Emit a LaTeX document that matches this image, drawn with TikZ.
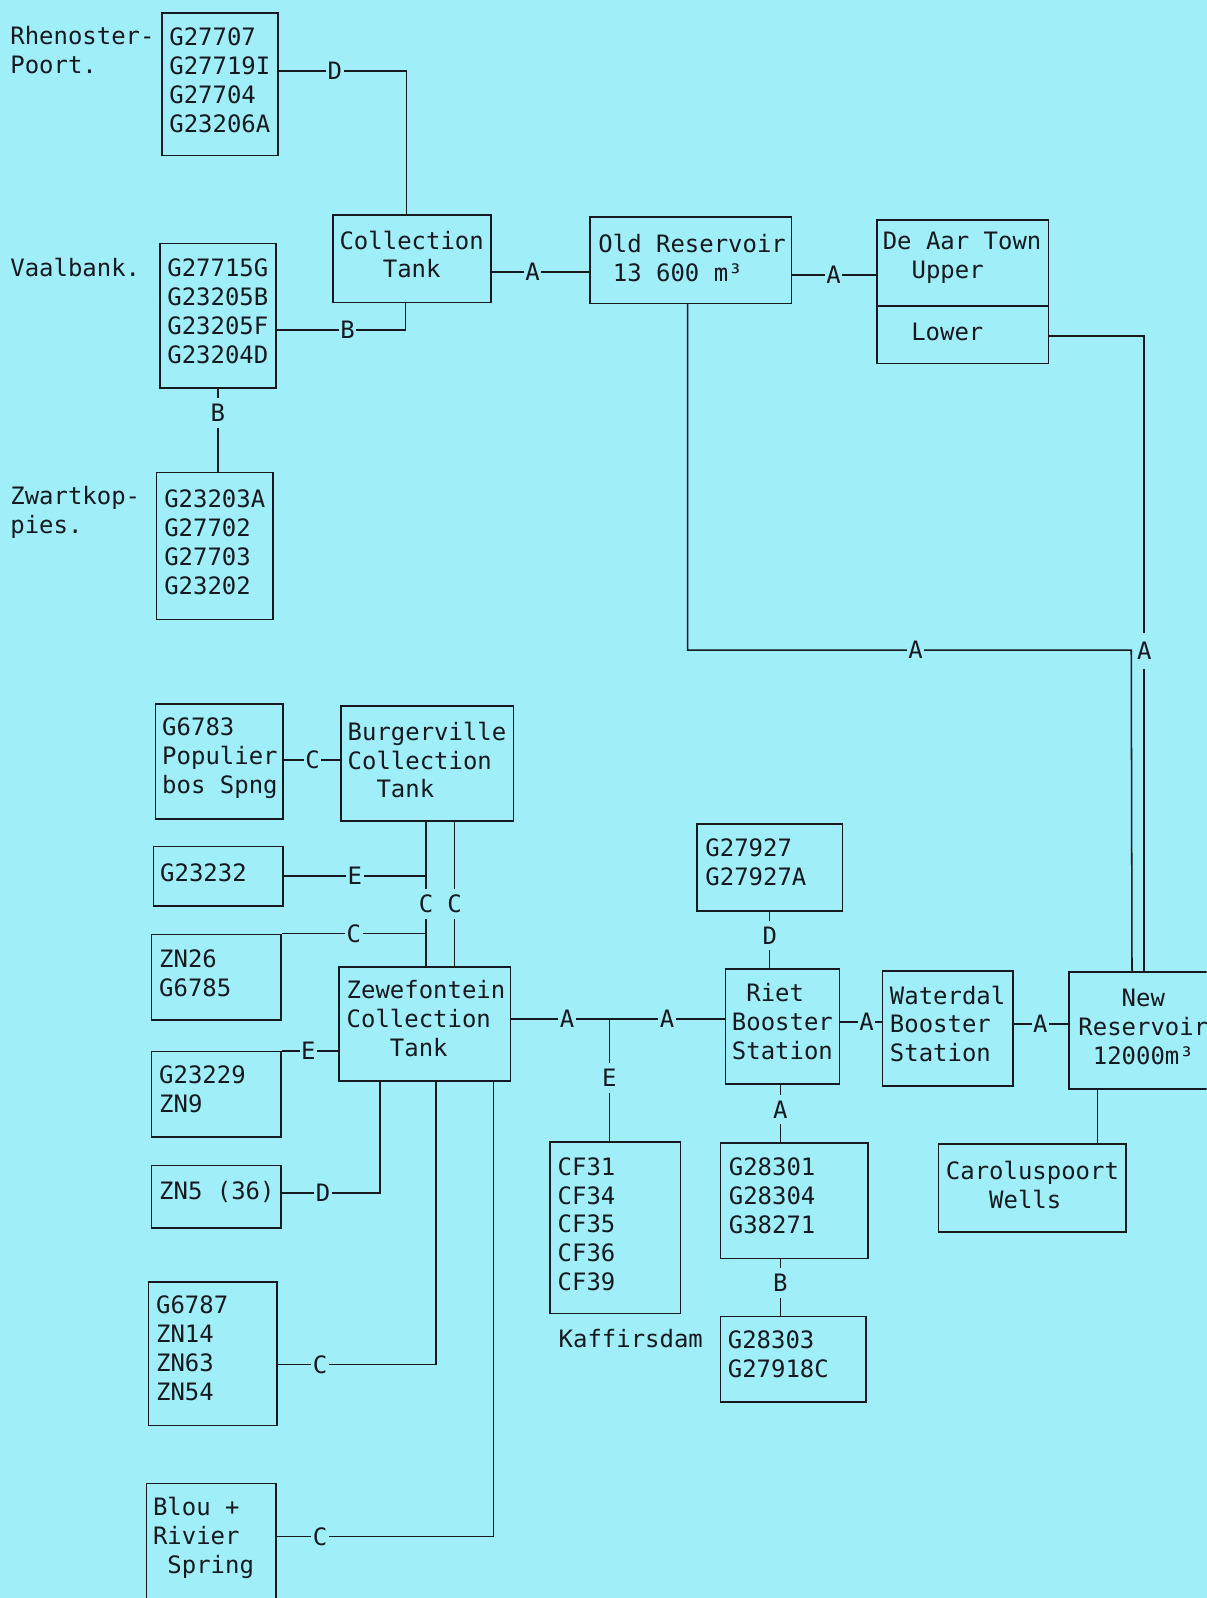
\documentclass[tikz,border=0pt]{standalone}
\usepackage{fontspec}
\newfontfamily\plotfont{DejaVu Sans Mono}
\definecolor{bgc}{RGB}{160,238,248}
\definecolor{ink}{RGB}{22,26,32}
\begin{document}
\begin{tikzpicture}[x=1pt,y=-1pt,
  ln/.style={draw=ink, line width=1.5pt},
  bx/.style={draw=ink, line width=1.5pt, rectangle, inner sep=0pt, anchor=north west},
  txt/.style={font=\plotfont\fontsize{23.5}{28.4}\selectfont, text=ink, inner sep=0pt, align=left, anchor=west},
  lab/.style={font=\plotfont\fontsize{23.5}{28.4}\selectfont, text=ink, fill=bgc, inner xsep=1.5pt, inner ysep=0pt},
  vlab/.style={lab, inner xsep=0pt, inner ysep=6pt},
]
\fill[bgc] (0,0) rectangle (1184,1568);
\useasboundingbox (0,0) rectangle (1184,1568);
\clip (0,0) rectangle (1184,1568);

% ---------- boxes ----------
\node[bx, minimum width=114pt, minimum height=140pt] (rhen) at (158,12) {};
\node[bx, minimum width=155pt, minimum height=86pt] (coll) at (326,210) {};
\node[bx, minimum width=114pt, minimum height=142pt] (vaal) at (156,238) {};
\node[bx, minimum width=114pt, minimum height=144pt] (zwart) at (153,463) {};
\node[bx, minimum width=198pt, minimum height=85pt] (oldres) at (578,212) {};
\node[bx, minimum width=168pt, minimum height=141pt] (deaar) at (860,215) {};
\node[bx, minimum width=125pt, minimum height=113pt] (g6783) at (152,690) {};
\node[bx, minimum width=169pt, minimum height=113pt] (burg) at (334,692) {};
\node[bx, minimum width=127pt, minimum height=58pt] (g23232) at (150,830) {};
\node[bx, minimum width=127pt, minimum height=84pt] (zn26) at (148,916) {};
\node[bx, minimum width=168pt, minimum height=112pt] (zewe) at (332,948) {};
\node[bx, minimum width=127pt, minimum height=84pt] (g23229) at (148,1031) {};
\node[bx, minimum width=127pt, minimum height=61pt] (zn5) at (148,1143) {};
\node[bx, minimum width=126pt, minimum height=141pt] (g6787) at (145,1257) {};
\node[bx, minimum width=127pt, minimum height=150pt] (blou) at (143,1455) {};
\node[bx, minimum width=143pt, minimum height=85pt] (g27927) at (683,808) {};
\node[bx, minimum width=112pt, minimum height=113pt] (riet) at (711,950) {};
\node[bx, minimum width=128pt, minimum height=113pt] (waterdal) at (865,952) {};
\node[bx, minimum width=146pt, minimum height=115pt] (newres) at (1048,953) {};
\node[bx, minimum width=184pt, minimum height=86pt] (carolus) at (920,1122) {};
\node[bx, minimum width=145pt, minimum height=113pt] (g28301) at (706,1121) {};
\node[bx, minimum width=143pt, minimum height=84pt] (g28303) at (706,1291) {};
\node[bx, minimum width=128pt, minimum height=168pt] (kaff) at (539,1120) {};

\coordinate (dv) at (0,300);
\draw[ln] (deaar.west |- dv) -- (deaar.east |- dv);

% ---------- texts ----------
\node[txt] (rhenT) at ([xshift=8pt,yshift=4pt]rhen.west) {G27707\\G27719I\\G27704\\G23206A};
\node[txt] (collT) at ([xshift=7pt,yshift=4pt]coll.west) {Collection\\\phantom{xxx}Tank};
\node[txt] (vaalT) at ([xshift=8pt,yshift=4pt]vaal.west) {G27715G\\G23205B\\G23205F\\G23204D};
\node[txt] (zwartT) at ([xshift=8pt,yshift=4pt]zwart.west) {G23203A\\G27702\\G27703\\G23202};
\node[txt] (oldresT) at ([xshift=9pt,yshift=2.5pt]oldres.west) {Old Reservoir\\\phantom{x}13 600 m³};
\node[txt] (deaarT) at (866,253) {De Aar Town\\\phantom{xx}Upper};
\node[txt] (deaarL) at (894,326) {Lower};
\node[txt] (g6783T) at ([xshift=7pt,yshift=3pt]g6783.west) {G6783\\Populier\\bos Spng};
\node[txt] (burgT) at ([xshift=7pt,yshift=3.5pt]burg.west) {Burgerville\\Collection\\\phantom{xx}Tank};
\node[txt] (g23232T) at ([xshift=7pt,yshift=3pt]g23232.west) {G23232};
\node[txt] (zn26T) at ([xshift=8pt,yshift=4pt]zn26.west) {ZN26\\G6785};
\node[txt] (zeweT) at ([xshift=8pt,yshift=5pt]zewe.west) {Zewefontein\\Collection\\\phantom{xxx}Tank};
\node[txt] (g23229T) at ([xshift=8pt,yshift=5pt]g23229.west) {G23229\\ZN9};
\node[txt] (zn5T) at ([xshift=8pt,yshift=5pt]zn5.west) {ZN5 (36)};
\node[txt] (g6787T) at ([xshift=8pt,yshift=5pt]g6787.west) {G6787\\ZN14\\ZN63\\ZN54};
\node[txt, anchor=north west] (blouT) at (150,1469) {Blou +\\Rivier\\\phantom{x}Spring};
\node[txt] (g27927T) at ([xshift=9pt,yshift=5pt]g27927.west) {G27927\\G27927A};
\node[txt] (rietT) at ([xshift=7pt,yshift=4.5pt]riet.west) {\phantom{x}Riet\\Booster\\Station};
\node[txt] (waterdalT) at ([xshift=8pt,yshift=4.5pt]waterdal.west) {Waterdal\\Booster\\Station};
\node[txt] (newresT) at ([xshift=10pt,yshift=4pt]newres.west) {\phantom{xxx}New\\Reservoir\\\phantom{x}12000m³};
\node[txt] (carolusT) at ([xshift=8pt,yshift=3pt]carolus.west) {Caroluspoort\\\phantom{xxx}Wells};
\node[txt] (g28301T) at ([xshift=9pt,yshift=4.5pt]g28301.west) {G28301\\G28304\\G38271};
\node[txt] (g28303T) at ([xshift=8pt,yshift=5pt]g28303.west) {G28303\\G27918C};
\node[txt] (kaffT) at ([xshift=8pt,yshift=3.5pt]kaff.west) {CF31\\CF34\\CF35\\CF36\\CF39};

\node[txt] (rhenL) at (10,49) {Rhenoster-\\Poort.};
\node[txt] (vaalL) at (10,262) {Vaalbank.};
\node[txt] (zwartL) at (10,503) {Zwartkop-\\pies.};
\node[txt] (kaffL) at (548,1313) {Kaffirsdam};

% ---------- helper coordinates ----------
\coordinate (v1) at (418,0);
\coordinate (v2) at (446,0);
\coordinate (v3) at (373,0);
\coordinate (v4) at (428,0);
\coordinate (v5) at (484,0);
\coordinate (oc) at (1110,638);
\coordinate (j1) at (598,1000);

% ---------- connectors ----------
\draw[ln] ([yshift=13pt]rhen.east) -| node[lab,pos=0.22]{D} ([xshift=-5.5pt]coll.north);
\draw[ln] ([yshift=-14pt]vaal.east) -| node[lab,pos=0.275]{B} ([xshift=-6.5pt]coll.south);
\draw[ln] (vaal.south) -- node[vlab,pos=0.29]{B} (vaal.south |- zwart.north);

\coordinate (p1) at ([yshift=-13pt]coll.east);
\draw[ln] (p1) -- node[lab,pos=0.42]{A} (p1 -| oldres.west);
\coordinate (p2) at ([yshift=-14.5pt]oldres.east);
\draw[ln] (p2) -- node[lab,pos=0.49]{A} (p2 -| deaar.west);
\coordinate (p3) at ([yshift=-43.5pt]deaar.east);
\draw[ln] (p3) -| node[vlab,inner ysep=9pt,pos=0.748]{A} ([xshift=1pt]newres.north);
\draw[ln] ([xshift=-3pt]oldres.south) |- node[lab,pos=0.757]{A} (oc) -- ([xshift=-11pt]newres.north);

\coordinate (p4) at ([yshift=1.5pt]g6783.east);
\draw[ln] (p4) -- node[lab,pos=0.51]{C} (p4 -| burg.west);
\draw[ln] (burg.south -| v1) -- node[vlab,pos=0.57]{C} (zewe.north -| v1);
\draw[ln] (burg.south -| v2) -- node[vlab,pos=0.57]{C} (zewe.north -| v2);
\draw[ln] (g23232.east) -- node[lab,pos=0.5]{E} (g23232.east -| v1);
\draw[ln] (zn26.north east) -- node[lab,pos=0.5]{C} (zn26.north east -| v1);
\draw[ln] (g23229.north east) -- node[lab,pos=0.47]{E} (g23229.north east -| zewe.west);

\coordinate (p6) at ([yshift=3.5pt]zn5.east);
\draw[ln] (p6) -| node[lab,pos=0.21]{D} (zewe.south -| v3);
\coordinate (p7) at ([yshift=-10.5pt]g6787.east);
\draw[ln] (p7) -| node[lab,pos=0.134]{C} (zewe.south -| v4);
\coordinate (p8) at ([yshift=23pt]blou.east);
\draw[ln] (p8) -| node[lab,pos=0.1]{C} (zewe.south -| v5);

\coordinate (p9) at (zewe.east |- j1);
\draw[ln] (p9) -- node[lab,pos=0.57]{A} (j1) -- node[lab,pos=0.5]{A} (j1 -| riet.west);
\draw[ln] (j1) -- node[vlab,pos=0.48]{E} (j1 |- kaff.north);

\coordinate (p10) at ([yshift=4.5pt]riet.east);
\draw[ln] (p10) -- node[lab,pos=0.64]{A} (p10 -| waterdal.west);
\coordinate (p11) at ([yshift=4.5pt]waterdal.east);
\draw[ln] (p11) -- node[lab,pos=0.49]{A} (p11 -| newres.west);

\draw[ln] (g27927.south) -- node[vlab,pos=0.42]{D} (g27927.south |- riet.north);
\coordinate (p12) at ([xshift=-2pt]riet.south);
\draw[ln] (p12) -- node[vlab,pos=0.43]{A} (p12 |- g28301.north);
\draw[ln] (p12 |- g28301.south) -- node[vlab,pos=0.42]{B} (p12 |- g28303.north);
\coordinate (p13) at ([xshift=-45pt]newres.south);
\draw[ln] (p13) -- (p13 |- carolus.north);
\end{tikzpicture}
\end{document}
